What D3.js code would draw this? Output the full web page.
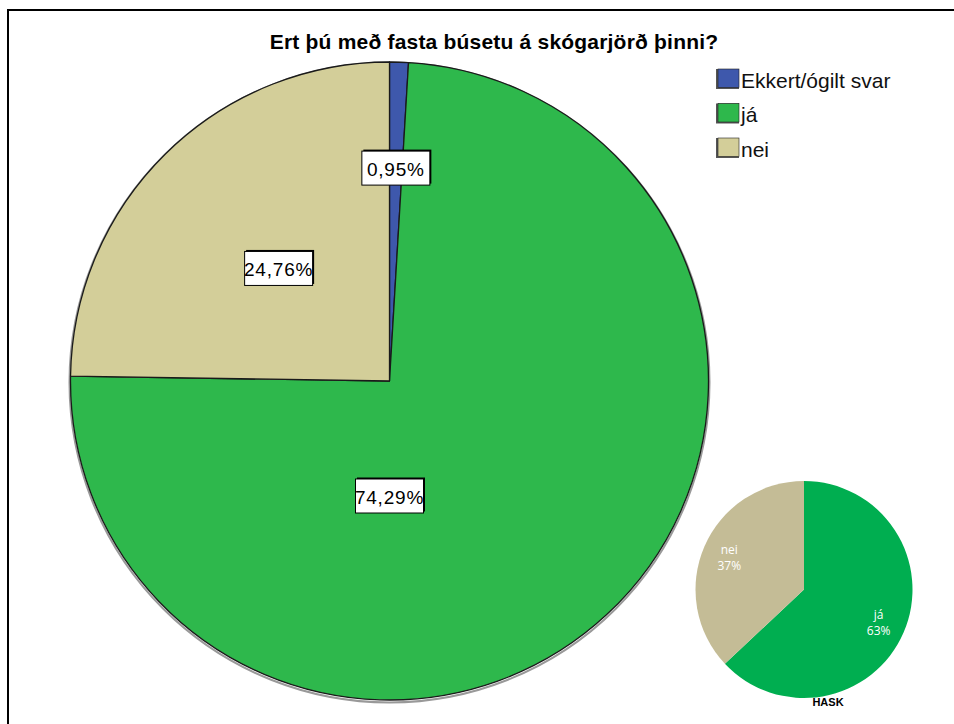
<html>
  <head>
    <title>Ert þú með fasta búsetu</title>
    <script src="https://d3js.org/d3.v7.min.js"></script>
    <style>
      body { margin: 0; background: #fff; }
      text { font-family: "Liberation Sans", Arial, sans-serif; }
    </style>
  </head>
  <body>
    <svg id="chart" width="954" height="724"></svg>
    <script>

    // main pie data
    const categories = ["Ekkert/ógilt svar", "já", "nei"];
    const values = [0.95, 74.29, 24.76];
    const colors = ["#3e58ac", "#2eb84c", "#d3ce99"];

    // small inset pie (HASK)
    const insetCategories = ["já", "nei"];
    const insetValues = [63, 37];
    const insetColors = ["#00ae50", "#c4bc96"];
    const insetTitle = "HASK";

    const title = "Ert þú með fasta búsetu á skógarjörð þinni?";

    const svg = d3.select("svg#chart");

    // frame (top + left edges)
    svg.append("line").attr("x1", 7).attr("x2", 954).attr("y1", 10).attr("y2", 10)
       .attr("stroke", "#000").attr("stroke-width", 2);
    svg.append("line").attr("x1", 8).attr("x2", 8).attr("y1", 10).attr("y2", 724)
       .attr("stroke", "#000").attr("stroke-width", 2);

    svg.append("text")
       .attr("x", 494).attr("y", 49)
       .attr("text-anchor", "middle")
       .style("font-size", "21px").style("font-weight", "bold")
       .style("letter-spacing", "0.2px")
       .text(title);

    // main pie
    const cx = 389.5, cy = 381, radius = 319;
    const pie = d3.pie().sort(null).value(d => d.value);
    const mainData = categories.map((c, i) => ({name: c, value: values[i], color: colors[i]}));
    const arcs = pie(mainData);
    const arcGen = d3.arc().innerRadius(0).outerRadius(radius);

    let main = svg.append("g").attr("transform", "translate(" + cx + "," + cy + ")");

    // soft shadow under the rim
    main.append("circle").attr("r", radius + 1).attr("cy", 1.5)
        .attr("fill", "none").attr("stroke", "#999").attr("stroke-width", 2);

    main.selectAll("path.slice").data(arcs)
        .join("path").attr("class", "slice")
        .attr("d", arcGen)
        .attr("fill", d => d.data.color)
        .attr("stroke", "#1a1a1a")
        .attr("stroke-width", 1.3)
        .attr("stroke-linejoin", "round");

    // label placement (SPSS style boxes)
    const labelRadius = {"Ekkert/ógilt svar": 213, "já": 115, "nei": 158};
    const labelAngle = {"já": Math.PI}; // SPSS nudged this one straight down
    const fmt = v => d3.format(".2f")(v).replace(".", ",") + "%";

    arcs.forEach(d => {
      const a = labelAngle[d.data.name] !== undefined ? labelAngle[d.data.name] : (d.startAngle + d.endAngle) / 2;
      const r = labelRadius[d.data.name];
      const lx = r * Math.sin(a), ly = -r * Math.cos(a);
      let g = main.append("g").attr("transform", "translate(" + lx + "," + ly + ")");
      const w = 68, h = 34;
      g.append("rect").attr("x", -w / 2 + 1.5).attr("y", -h / 2 - 1.5).attr("width", w).attr("height", h)
        .attr("fill", "#000");
      g.append("rect").attr("x", -w / 2).attr("y", -h / 2).attr("width", w).attr("height", h)
        .attr("fill", "#fff").attr("stroke", "#000").attr("stroke-width", 1);
      g.append("text")
        .attr("text-anchor", "middle").attr("dominant-baseline", "central")
        .attr("y", 1)
        .style("font-size", "19px").style("letter-spacing", "0.8px")
        .text(fmt(d.data.value));
    });

    // legend
    let legend = svg.append("g").attr("transform", "translate(716,69)");
    categories.forEach((c, i) => {
      let row = legend.append("g").attr("transform", "translate(0," + (i * 34.5) + ")");
      row.append("rect").attr("x", 0).attr("y", 0).attr("width", 23).attr("height", 20)
         .attr("fill", "#555");
      row.append("rect").attr("x", 2).attr("y", 0).attr("width", 21).attr("height", 18.5)
         .attr("fill", colors[i]).attr("stroke", "#222").attr("stroke-width", 0.6);
      row.append("text").attr("x", 25).attr("y", 18.5)
         .style("font-size", "21px").style("fill", "#111")
         .text(c);
    });

    // inset pie
    const icx = 804, icy = 589.5, ir = 108.5;
    let inset = svg.append("g").attr("transform", "translate(" + icx + "," + icy + ")");

    inset.append("text").attr("x", 24).attr("y", 116)
         .attr("text-anchor", "middle")
         .style("font-size", "11px").style("font-weight", "bold")
         .text(insetTitle);

    const insetData = insetCategories.map((c, i) => ({name: c, value: insetValues[i], color: insetColors[i]}));
    const insetArcs = pie(insetData);
    const insetArc = d3.arc().innerRadius(0).outerRadius(ir);
    const insetLabelArc = d3.arc().innerRadius(ir * 0.75).outerRadius(ir * 0.75);

    inset.selectAll("path").data(insetArcs)
         .join("path").attr("d", insetArc)
         .attr("fill", d => d.data.color);

    insetArcs.forEach(d => {
      const [x, y] = insetLabelArc.centroid(d);
      let t = inset.append("text").attr("text-anchor", "middle")
                   .attr("transform", "translate(" + x + "," + y + ")")
                   .style("font-family", "'Open Sans', sans-serif")
                   .style("font-size", "12px").style("fill", "#fff");
      t.append("tspan").attr("x", 0).attr("dy", "-0.25em").text(d.data.name);
      t.append("tspan").attr("x", 0).attr("dy", "1.35em").text(d.data.value + "%");
    });

    </script>
  </body>
</html>
